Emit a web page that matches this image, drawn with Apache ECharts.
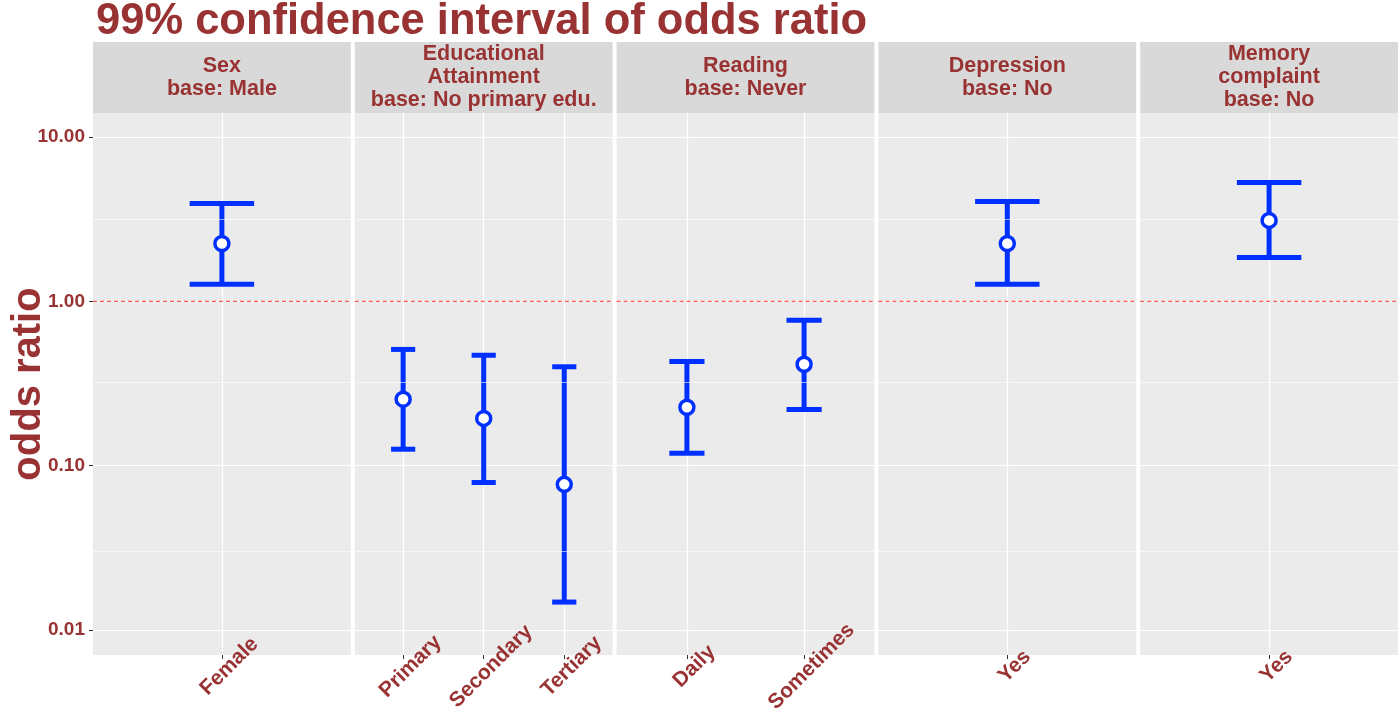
<!DOCTYPE html>
<html>
<head>
<meta charset="utf-8">
<script src="https://cdn.jsdelivr.net/npm/echarts@6/dist/echarts.min.js"></script>
<style>html,body{margin:0;padding:0;background:#fff;}#c{width:1400px;height:713px;}</style>
</head>
<body>
<div id="c"></div>
<script>
const titleText = '99% confidence interval of odds ratio';
const panelTitles = ['Sex\nbase: Male', 'Educational\nAttainment\nbase: No primary edu.', 'Reading\nbase: Never', 'Depression\nbase: No', 'Memory\ncomplaint\nbase: No'];
const categories = [['Female'], ['Primary', 'Secondary', 'Tertiary'], ['Daily', 'Sometimes'], ['Yes'], ['Yes']];
const oddsRatio = [[2.25], [0.254, 0.194, 0.077], [0.227, 0.414], [2.25], [3.11]];
const lowerCI = [[1.27], [0.126, 0.079, 0.0148], [0.119, 0.22], [1.27], [1.85]];
const upperCI = [[3.94], [0.51, 0.47, 0.40], [0.43, 0.767], [4.05], [5.29]];
const yTicks = [0.01, 0.1, 1, 10];
const yMinorBreaks = [0.0316, 0.316, 3.16];
const refLine = 1;
const yMin = 0.00705, yMax = 14.0;

(function () {
const RED = '#993333';
const BLUE = '#0030ff';
const FONT = 'Liberation Sans';

const chart = echarts.init(document.getElementById('c'));
const left0 = 93, gap = 4, totalW = 1398 - 93;
const pw = (totalW - gap * 4) / 5;
const gTop = 113, gBottom = 655;

const grids = [], xAxes = [], yAxes = [], series = [], graphics = [];
for (let i = 0; i < 5; i++) {
  const L = left0 + i * (pw + gap);
  grids.push({left: L, top: gTop, width: pw, height: gBottom - gTop, show: true, backgroundColor: '#ebebeb', borderWidth: 0,
    containLabel: false, outerBoundsMode: 'none'});
  const n = categories[i].length;
  const xMin = -0.6, xMax = n - 0.4;
  const idx = categories[i].map((c, j) => j);
  xAxes.push({
    type: 'value', gridIndex: i, min: xMin, max: xMax,
    axisLine: {show: false, onZero: false},
    axisTick: {show: true, length: 4, lineStyle: {color: '#333', width: 1}, customValues: idx},
    axisLabel: {customValues: idx, formatter: v => categories[i][Math.round(v)], rotate: 45, align: 'center', verticalAlign: 'top', margin: 4,
      color: RED, fontSize: 21, fontWeight: 'bold', fontFamily: FONT, hideOverlap: false},
    splitLine: {show: true, lineStyle: {color: '#ffffff', width: 1.2}}
  });
  yAxes.push({
    type: 'log', logBase: 10, gridIndex: i, min: yMin, max: yMax,
    axisLine: {show: false, onZero: false},
    axisTick: {show: i === 0, length: 4, lineStyle: {color: '#333', width: 1}, customValues: yTicks},
    axisLabel: {show: i === 0, customValues: yTicks, formatter: v => Number(v).toFixed(2), margin: 8,
      color: RED, fontSize: 19, fontWeight: 'bold', fontFamily: FONT},
    splitLine: {show: true, lineStyle: {color: '#ffffff', width: 1.2}},
    name: i === 0 ? 'odds ratio' : '', nameLocation: 'middle', nameRotate: 90, nameGap: 44, nameMoveOverlap: false,
    nameTextStyle: {color: RED, fontSize: 40, fontWeight: 'bold', fontFamily: FONT}
  });
  series.push({
    type: 'custom', xAxisIndex: i, yAxisIndex: i, z: 3,
    data: categories[i].map((c, j) => [j, lowerCI[i][j], upperCI[i][j]]),
    renderItem: function (params, api) {
      const x = api.value(0), lo = api.value(1), hi = api.value(2);
      const pLo = api.coord([x, lo]), pHi = api.coord([x, hi]);
      const half = api.coord([x + 0.15, lo])[0] - pLo[0];
      const st = {stroke: BLUE, lineWidth: 5, lineCap: 'butt'};
      return {type: 'group', children: [
        {type: 'line', shape: {x1: pLo[0], y1: pLo[1], x2: pHi[0], y2: pHi[1]}, style: st},
        {type: 'line', shape: {x1: pLo[0] - half, y1: pLo[1], x2: pLo[0] + half, y2: pLo[1]}, style: st},
        {type: 'line', shape: {x1: pHi[0] - half, y1: pHi[1], x2: pHi[0] + half, y2: pHi[1]}, style: st}
      ]};
    },
    markLine: {
      silent: true, symbol: 'none', label: {show: false},
      lineStyle: {color: '#ffffff', width: 0.6, type: 'solid'},
      data: yMinorBreaks.map(v => ({yAxis: v}))
    }
  });
  series.push({
    type: 'line', xAxisIndex: i, yAxisIndex: i, z: 2, silent: true,
    data: [[xMin, refLine], [xMax, refLine]],
    symbol: 'none', showSymbol: false,
    lineStyle: {color: '#ff5a5a', width: 1.2, type: [4, 3]},
    itemStyle: {color: '#ff5a5a'},
    emphasis: {disabled: true}
  });
  series.push({
    type: 'scatter', xAxisIndex: i, yAxisIndex: i, z: 5,
    data: categories[i].map((c, j) => [j, oddsRatio[i][j]]),
    symbol: 'circle', symbolSize: 14,
    itemStyle: {color: '#ffffff', borderColor: BLUE, borderWidth: 3.5, opacity: 1}
  });
  graphics.push({type: 'rect', left: L, top: 42, shape: {width: pw, height: 71}, style: {fill: '#d9d9d9'}});
  graphics.push({type: 'text', x: L + pw / 2, y: 42 + 71 / 2, style: {text: panelTitles[i], fill: RED,
    font: 'bold 21.5px "' + FONT + '"', lineHeight: 23, align: 'center', verticalAlign: 'middle'}});
}

chart.setOption({
  animation: false,
  backgroundColor: '#ffffff',
  title: {text: titleText, left: 91, top: -5, textStyle: {color: RED, fontSize: 43.5, fontWeight: 'bold', fontFamily: FONT}},
  grid: grids, xAxis: xAxes, yAxis: yAxes, series: series, graphic: graphics
});
})();
</script>
</body>
</html>
